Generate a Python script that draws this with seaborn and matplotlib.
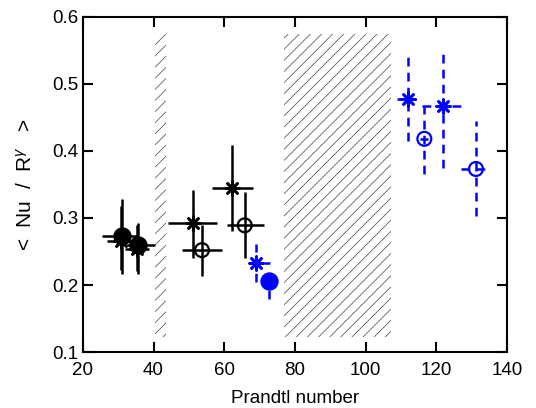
import numpy as np
import pandas as pd
import seaborn as sns
import matplotlib
matplotlib.use('Agg')
import matplotlib.pyplot as plt

# values: Pr, <Nu/R^g>, x-range, y-range
blk_ast_pr = [30.8, 35.3, 51.3, 62.2]
blk_ast_v = [0.266, 0.253, 0.293, 0.345]
blk_ast_xlo = [26.8, 32.0, 44.2, 56.5]
blk_ast_xhi = [34.3, 38.6, 58.0, 68.2]
blk_ast_ylo = [0.222, 0.221, 0.241, 0.280]
blk_ast_yhi = [0.318, 0.290, 0.342, 0.409]

blk_fill_pr = [31.0, 35.5]
blk_fill_v = [0.273, 0.259]
blk_fill_xlo = [25.4, 32.4]
blk_fill_xhi = [35.7, 40.5]
blk_fill_ylo = [0.216, 0.216]
blk_fill_yhi = [0.328, 0.293]

blk_open_pr = [53.7, 65.8]
blk_open_v = [0.252, 0.289]
blk_open_xlo = [48.0, 60.8]
blk_open_xhi = [59.4, 71.2]
blk_open_ylo = [0.213, 0.241]
blk_open_yhi = [0.290, 0.338]

blu_ast_pr = [69.1, 112.1, 122.0]
blu_ast_v = [0.233, 0.477, 0.467]
blu_ast_xlo = [66.9, 109.0, 116.0]
blu_ast_xhi = [72.9, 114.2, 127.0]
blu_ast_ylo = [0.204, 0.414, 0.375]
blu_ast_yhi = [0.261, 0.541, 0.551]

blu_fill_pr = [72.8]
blu_fill_v = [0.206]
blu_fill_xlo = [72.0]
blu_fill_xhi = [73.6]
blu_fill_ylo = [0.179]
blu_fill_yhi = [0.221]

blu_open_pr = [116.6, 131.2]
blu_open_v = [0.418, 0.373]
blu_open_xlo = [115.5, 126.9]
blu_open_xhi = [117.7, 135.0]
blu_open_ylo = [0.365, 0.303]
blu_open_yhi = [0.466, 0.444]

# excluded (hatched) Prandtl ranges
gap_lo = [40.5, 76.8]
gap_hi = [43.6, 107.1]
gap_bottom = 0.122
gap_top = 0.574

sns.set_style('ticks')
plt.rcParams['font.family'] = ['Liberation Sans', 'DejaVu Sans']
plt.rcParams['mathtext.fontset'] = 'custom'
plt.rcParams['mathtext.rm'] = 'Liberation Sans'
plt.rcParams['mathtext.it'] = 'Liberation Sans:italic'
plt.rcParams['hatch.linewidth'] = 0.5
plt.rcParams['hatch.color'] = '#444444'
for k in ['text.color', 'axes.labelcolor', 'xtick.color', 'ytick.color', 'axes.edgecolor']:
    plt.rcParams[k] = 'black'

fig = plt.figure(figsize=(5.36, 4.08), dpi=100)
ax = fig.add_axes([0.1545, 0.137, 0.7915, 0.822])

for lo, hi in zip(gap_lo, gap_hi):
    ax.fill_between([lo, hi], gap_bottom, gap_top, facecolor='none',
                    edgecolor='#444444', hatch='///', linewidth=0)


def draw(pr, v, xlo, xhi, ylo, yhi, color, marker, filled, dashed, ms):
    pr = np.array(pr); v = np.array(v)
    xerr = [pr - np.array(xlo), np.array(xhi) - pr]
    yerr = [v - np.array(ylo), np.array(yhi) - v]
    eb = ax.errorbar(pr, v, xerr=xerr, yerr=yerr, fmt='none', ecolor=color,
                     elinewidth=1.8, capsize=0, zorder=3)
    if dashed:
        for lc in eb[2]:
            lc.set_linestyle((0, (3.5, 2.5)))
    df = pd.DataFrame({'Pr': pr, 'v': v})
    if marker == 'o':
        sns.scatterplot(data=df, x='Pr', y='v', ax=ax, marker='o', s=ms,
                        facecolor=color if filled else 'none',
                        edgecolor=color, linewidth=1.6, zorder=4)
    else:
        sns.scatterplot(data=df, x='Pr', y='v', ax=ax, marker=(8, 2, 0), s=ms,
                        color=color, edgecolor=color, linewidth=1.9, zorder=4)


draw(blk_ast_pr, blk_ast_v, blk_ast_xlo, blk_ast_xhi, blk_ast_ylo, blk_ast_yhi, 'black', '*', False, False, 100)
draw(blk_fill_pr, blk_fill_v, blk_fill_xlo, blk_fill_xhi, blk_fill_ylo, blk_fill_yhi, 'black', 'o', True, False, 135)
draw(blk_open_pr, blk_open_v, blk_open_xlo, blk_open_xhi, blk_open_ylo, blk_open_yhi, 'black', 'o', False, False, 100)
draw(blu_ast_pr, blu_ast_v, blu_ast_xlo, blu_ast_xhi, blu_ast_ylo, blu_ast_yhi, 'blue', '*', False, True, 100)
draw(blu_fill_pr, blu_fill_v, blu_fill_xlo, blu_fill_xhi, blu_fill_ylo, blu_fill_yhi, 'blue', 'o', True, True, 135)
draw(blu_open_pr, blu_open_v, blu_open_xlo, blu_open_xhi, blu_open_ylo, blu_open_yhi, 'blue', 'o', False, True, 100)

ax.set_xlim(20, 140)
ax.set_ylim(0.1, 0.6)
ax.set_xticks(np.arange(20, 141, 20))
ax.set_yticks(np.round(np.arange(0.1, 0.61, 0.1), 1))
ax.set_yticklabels([f'{t:.1f}' for t in np.arange(0.1, 0.61, 0.1)])
ax.tick_params(direction='in', length=7, width=1.5, top=True, right=True,
               labelsize=13.5)
ax.tick_params(axis='y', pad=3)
ax.tick_params(axis='x', pad=7)
for s in ax.spines.values():
    s.set_linewidth(1.5)
ax.set_xlabel('Prandtl number', fontsize=13.5, labelpad=8)
ax.set_ylabel(r'<  Nu  /  R$^{\gamma}$   >', fontsize=15, labelpad=12)

fig.savefig('out.png', dpi=100)
